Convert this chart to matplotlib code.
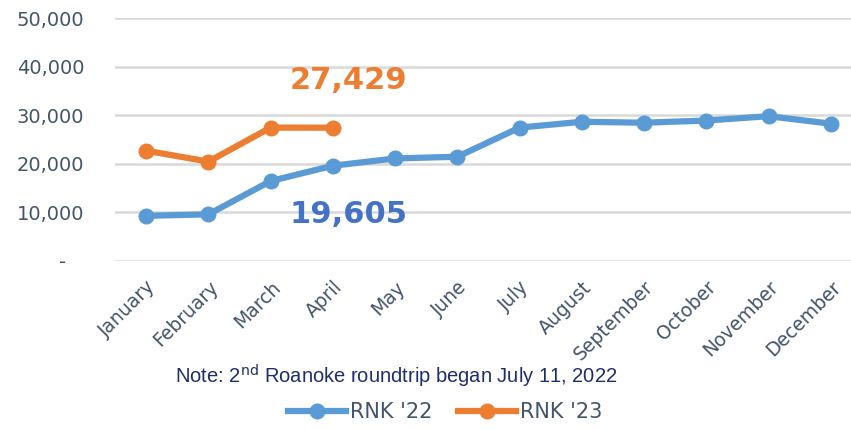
import matplotlib
matplotlib.use("Agg")
from matplotlib import pyplot as plt
from matplotlib.ticker import FuncFormatter

# Monthly ridership, Roanoke (RNK)
months = ["January", "February", "March", "April", "May", "June",
          "July", "August", "September", "October", "November", "December"]
rnk22 = [9300, 9600, 16450, 19605, 21100, 21450,
         27450, 28650, 28450, 28900, 29800, 28250]
rnk23 = [22700, 20450, 27450, 27429]

blue = "#5B9BD5"
orange = "#ED7D31"
tick_col = "#44546A"

fig = plt.figure(figsize=(8.51, 4.30), dpi=100)
# axes slightly wider than the figure, the reference is cropped on the right
ax = fig.add_axes([115 / 851, 1 - 261 / 430, 747 / 851, 243 / 430])

x = list(range(len(months)))
ax.plot(x, rnk22, color=blue, lw=4.5, marker="o", ms=10.5, label="RNK '22", zorder=3)
ax.plot(x[:len(rnk23)], rnk23, color=orange, lw=4.5, marker="o", ms=10.5, label="RNK '23", zorder=3)

ax.set_xlim(-0.5, 11.5)
ax.set_ylim(0, 50000)
ax.set_yticks(range(0, 50001, 10000))
# accounting style: zero shown as a dash
ax.yaxis.set_major_formatter(FuncFormatter(lambda v, p: "-   " if v == 0 else f"{int(v):,}"))
ax.grid(axis="y", color="#D9D9D9", lw=1.8)
ax.set_axisbelow(True)
for s in ax.spines.values():
    s.set_visible(False)
ax.tick_params(length=0)
ax.tick_params(axis="y", labelsize=14, labelcolor=tick_col, pad=22)

ax.set_xticks(x)
ax.set_xticklabels(months, rotation=45, ha="right", rotation_mode="anchor",
                   fontsize=13.5, color=tick_col)
ax.tick_params(axis="x", pad=12)

# callouts for the latest month
ax.text(3.25, rnk23[3] + 9800, f"{rnk23[3]:,}", color=orange, fontsize=22,
        fontweight="bold", ha="center", va="center")
ax.text(3.25, rnk22[3] - 10000, f"{rnk22[3]:,}", color="#4472C4", fontsize=22,
        fontweight="bold", ha="center", va="center")

fig.text(396 / 851, 1 - 376 / 430, r"Note: 2$^{\mathrm{nd}}$ Roanoke roundtrip began July 11, 2022",
         color="#1F2D6B", fontsize=14.5, ha="center", va="center",
         family=["Liberation Sans Narrow", "Liberation Sans", "DejaVu Sans"])

leg = fig.legend(loc="center", bbox_to_anchor=(445 / 851, 1 - 412 / 430), ncol=2,
                 frameon=False, fontsize=15, handlelength=2.8, columnspacing=1.2,
                 handletextpad=0.2)
for t in leg.get_texts():
    t.set_color(tick_col)

fig.savefig("out.png", dpi=100)
